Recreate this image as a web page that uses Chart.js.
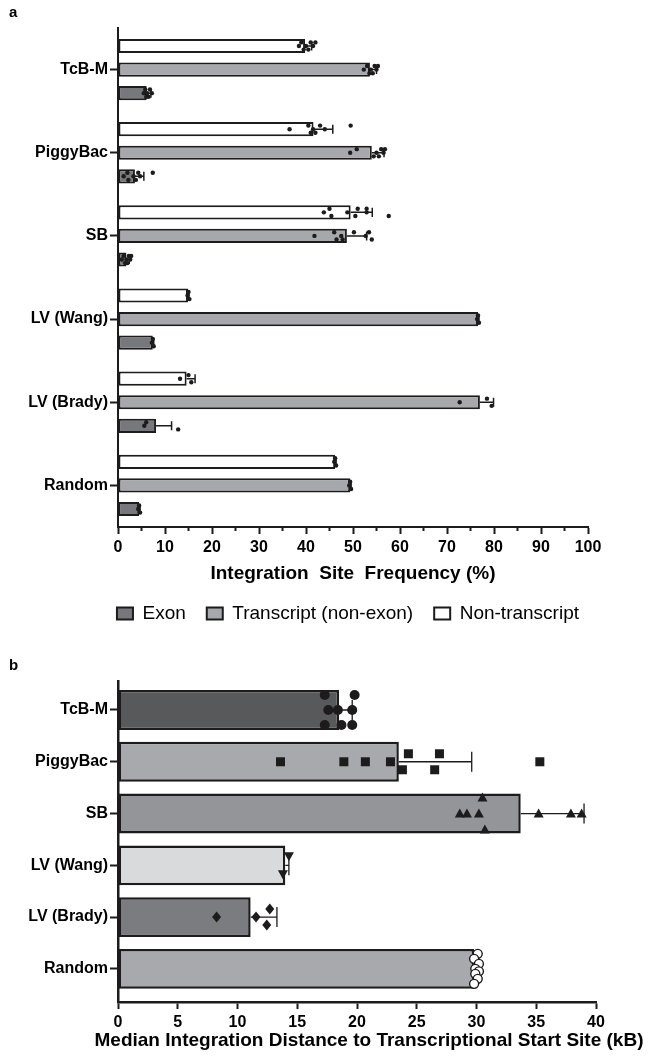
<!DOCTYPE html>
<html>
<head>
<meta charset="utf-8">
<script src="https://cdn.jsdelivr.net/npm/chart.js"></script>
<style>
html,body{margin:0;padding:0;background:#fff;}
#wrap{position:relative;width:652px;height:1056px;overflow:hidden;}
canvas{position:absolute;left:0;}
#ca{top:0;}
#cb{top:643px;}
.pl{position:absolute;font:bold 15px "Liberation Sans",Arial,sans-serif;color:#000;}
</style>
</head>
<body>
<div id="wrap">
<canvas id="ca" width="652" height="643"></canvas>
<canvas id="cb" width="652" height="413"></canvas>
<div class="pl" style="left:9px;top:3px">a</div>
<div class="pl" style="left:9px;top:656px">b</div>
</div>
<script>
// ---------- data ----------
const categories = ['TcB-M', 'PiggyBac', 'SB', 'LV (Wang)', 'LV (Brady)', 'Random'];

// Panel a: integration site frequency (%), bar means
const nonTranscriptMean = [39.8, 41.6, 49.5, 14.9, 14.6, 46.2];
const transcriptMean    = [53.6, 54.0, 48.7, 76.6, 77.0, 49.4];
const exonMean          = [6.1, 3.6, 1.8, 7.4, 8.1, 4.5];
// Panel a: error (SD)
const nonTranscriptSD = [1.4, 4.1, 4.6, 0.2, 1.8, 0.2];
const transcriptSD    = [1.4, 2.6, 4.2, 0.2, 2.9, 0.2];
const exonSD          = [0.9, 1.9, 0.6, 0.2, 3.3, 0.2];
// Panel a: replicate values
const nonTranscriptPoints = [
  [38.5, 39.0, 39.5, 40.0, 40.5, 41.0, 41.5, 42.0],
  [36.5, 40.5, 41.0, 41.5, 42.0, 43.0, 44.0, 49.5],
  [43.8, 45.0, 45.4, 48.8, 50.5, 51.0, 52.9, 52.9, 57.6],
  [14.8, 15.0, 15.2],
  [13.2, 15.0, 15.6],
  [46.0, 46.2, 46.4]
];
const transcriptPoints = [
  [52.3, 53.0, 53.5, 53.8, 54.2, 54.6, 55.0, 55.3],
  [49.4, 50.8, 54.4, 55.0, 55.5, 56.0, 56.5, 56.8],
  [41.8, 46.0, 46.5, 47.5, 47.8, 50.2, 52.7, 53.4, 54.0],
  [76.4, 76.6, 76.8],
  [72.7, 78.5, 79.5],
  [49.2, 49.4, 49.6]
];
const exonPoints = [
  [5.5, 5.8, 6.0, 6.2, 6.5, 6.8, 7.2],
  [1.2, 2.0, 2.2, 3.3, 3.8, 4.3, 4.7, 7.4],
  [0.8, 1.2, 1.5, 1.8, 2.0, 2.3, 2.6, 2.8],
  [7.2, 7.4, 7.6],
  [5.6, 6.0, 12.8],
  [4.3, 4.5, 4.7]
];
const freqTicks = [0, 10, 20, 30, 40, 50, 60, 70, 80, 90, 100];

// Panel b: median integration distance to TSS (kB)
const distanceMedian = [18.5, 23.5, 33.7, 14.0, 11.1, 29.8];
const distanceSD     = [1.1, 6.1, 5.3, 0.3, 2.2, 0.2];
const distancePoints = [
  [17.3, 19.8, 17.6, 18.4, 19.6, 17.3, 18.7, 19.6],
  [13.6, 18.9, 20.7, 22.8, 23.8, 24.3, 26.5, 26.9, 35.3],
  [28.6, 29.2, 30.2, 30.5, 30.7, 35.2, 37.9, 38.8],
  [14.3, 13.8],
  [8.25, 11.55, 12.7, 12.45],
  [30.1, 29.8, 30.2, 29.9, 30.2, 29.9, 30.1, 29.8]
];
const distanceTicks = [0, 5, 10, 15, 20, 25, 30, 35, 40];

// ---------- styling / layout (not data) ----------
const FONT = '"Liberation Sans", Arial, Helvetica, sans-serif';
const INK = '#1d1b1c';
Chart.defaults.font.family = FONT;
Chart.defaults.color = '#000';

const jitterRowsA = [0, -1, 1, 0, 1, -1, 0, -1, 1];
const jitterRowsB = [
  [-1, -1, 0, 0, 0, 1, 1, 1],
  [0, 0, 0, 0, 1, -1, 1, -1, 0],
  [0, 0, 0, -1, 1, 0, 0, 0],
  [-1, 1],
  [0, 0, -1, 1],
  [-3, -2, -1, 0, 0.5, 1, 2, 3]
];
const jitterStepB = [15, 8, 16, 9, 8, 5];
const markerB = ['circle', 'square', 'triangle', 'triangleDown', 'diamond', 'openCircle'];
const barColorsB = ['#58595b', '#a7a9ac', '#939598', '#d9dadc', '#7b7c7f', '#a7a9ac'];

// ---------- panel a ----------
const panelAOverlay = {
  id: 'panelAOverlay',
  afterDatasetsDraw(chart) {
    const ctx = chart.ctx, xs = chart.scales.x;
    const groups = [
      [nonTranscriptPoints, nonTranscriptSD, nonTranscriptMean],
      [transcriptPoints, transcriptSD, transcriptMean],
      [exonPoints, exonSD, exonMean]
    ];
    ctx.save();
    groups.forEach(([pts, sd, mean], di) => {
      chart.getDatasetMeta(di).data.forEach((bar, i) => {
        const y = bar.y, h = bar.height;
        const x0 = xs.getPixelForValue(mean[i]), x1 = xs.getPixelForValue(mean[i] + sd[i]);
        ctx.strokeStyle = INK; ctx.lineWidth = 1.5;
        ctx.beginPath();
        ctx.moveTo(x0, y); ctx.lineTo(x1, y);
        ctx.moveTo(x1, y - h * 0.32); ctx.lineTo(x1, y + h * 0.32);
        ctx.stroke();
        ctx.fillStyle = INK;
        pts[i].forEach((v, k) => {
          const dy = jitterRowsA[k % jitterRowsA.length] * 3.6;
          ctx.beginPath();
          ctx.arc(xs.getPixelForValue(v), y + dy, 2.2, 0, Math.PI * 2);
          ctx.fill();
        });
      });
    });
    ctx.strokeStyle = INK; ctx.lineWidth = 2;
    for (let k = 0; k < freqTicks.length - 1; k++) {
      const xm = xs.getPixelForValue((freqTicks[k] + freqTicks[k + 1]) / 2);
      ctx.beginPath();
      ctx.moveTo(xm, chart.chartArea.bottom); ctx.lineTo(xm, chart.chartArea.bottom + 4);
      ctx.stroke();
    }
    ctx.restore();
  }
};

const barStyle = { borderColor: INK, borderWidth: 2, borderSkipped: false };

new Chart(document.getElementById('ca'), {
  type: 'bar',
  data: {
    labels: categories,
    datasets: [
      Object.assign({ label: 'Non-transcript', data: nonTranscriptMean, backgroundColor: '#ffffff' }, barStyle),
      Object.assign({ label: 'Transcript (non-exon)', data: transcriptMean, backgroundColor: '#a7a8ab' }, barStyle),
      Object.assign({ label: 'Exon', data: exonMean, backgroundColor: '#77787b' }, barStyle)
    ]
  },
  options: {
    indexAxis: 'y',
    responsive: false,
    animation: false,
    events: [],
    categoryPercentage: 0.85,
    barPercentage: 0.6,
    layout: { padding: { left: 0, right: 52, top: 28, bottom: 10 } },
    scales: {
      y: {
        type: 'category',
        offset: true,
        grid: { offset: false, drawOnChartArea: false, drawTicks: true, tickLength: 8, tickWidth: 2, tickColor: INK },
        border: { color: INK, width: 2 },
        ticks: { padding: 2, font: { size: 16, weight: 'bold' }, color: '#000' },
        afterFit(s) { s.width = 118; }
      },
      yR: {
        type: 'linear', axis: 'y', position: 'right', display: true,
        grid: { display: false, drawTicks: false }, border: { display: false },
        ticks: { display: false },
        afterFit(s) { s.width = 12; }
      },
      x: {
        type: 'linear', min: 0, max: 100,
        afterBuildTicks(s) { s.ticks = freqTicks.map(v => ({ value: v })); },
        grid: { drawOnChartArea: false, tickLength: 7, tickWidth: 2, tickColor: INK },
        border: { color: INK, width: 2 },
        ticks: { autoSkip: false, maxRotation: 0, padding: 4, font: { size: 16, weight: 'bold' }, color: '#000' },
        title: { display: true, text: 'Integration  Site  Frequency (%)', font: { size: 19, weight: 'bold' }, color: '#000', padding: { top: 0, bottom: -2 } },
        afterFit(s) { s.height = 56; }
      }
    },
    plugins: {
      legend: {
        position: 'bottom', align: 'end', reverse: true,
        labels: { boxWidth: 16, boxHeight: 12, padding: 21, font: { size: 19 }, color: '#000' }
      },
      tooltip: { enabled: false }
    }
  },
  plugins: [panelAOverlay]
});

// ---------- panel b ----------
function drawMarker(ctx, type, x, y) {
  ctx.beginPath();
  if (type === 'circle') {
    ctx.arc(x, y, 5, 0, Math.PI * 2); ctx.fill();
  } else if (type === 'openCircle') {
    ctx.arc(x, y, 4.5, 0, Math.PI * 2);
    ctx.fillStyle = '#fff'; ctx.fill();
    ctx.lineWidth = 1.4; ctx.stroke(); ctx.fillStyle = INK;
  } else if (type === 'square') {
    ctx.rect(x - 4.5, y - 4.5, 9, 9); ctx.fill();
  } else if (type === 'triangle') {
    ctx.moveTo(x, y - 5); ctx.lineTo(x + 5, y + 4); ctx.lineTo(x - 5, y + 4); ctx.closePath(); ctx.fill();
  } else if (type === 'triangleDown') {
    ctx.moveTo(x, y + 5); ctx.lineTo(x + 5, y - 4); ctx.lineTo(x - 5, y - 4); ctx.closePath(); ctx.fill();
  } else if (type === 'diamond') {
    ctx.moveTo(x, y - 5.5); ctx.lineTo(x + 4.5, y); ctx.lineTo(x, y + 5.5); ctx.lineTo(x - 4.5, y); ctx.closePath(); ctx.fill();
  }
}

const panelBOverlay = {
  id: 'panelBOverlay',
  afterDatasetsDraw(chart) {
    const ctx = chart.ctx, xs = chart.scales.x;
    ctx.save();
    chart.getDatasetMeta(0).data.forEach((bar, i) => {
      const y = bar.y;
      const x0 = xs.getPixelForValue(distanceMedian[i]);
      const x1 = xs.getPixelForValue(distanceMedian[i] + distanceSD[i]);
      ctx.strokeStyle = INK; ctx.lineWidth = 1.3;
      ctx.beginPath();
      ctx.moveTo(x0, y); ctx.lineTo(x1, y);
      ctx.moveTo(x1, y - 10); ctx.lineTo(x1, y + 10);
      ctx.stroke();
      ctx.fillStyle = INK;
      distancePoints[i].forEach((v, k) => {
        drawMarker(ctx, markerB[i], xs.getPixelForValue(v), y + jitterRowsB[i][k] * jitterStepB[i]);
      });
    });
    ctx.fillStyle = '#000';
    ctx.font = 'bold 19px ' + FONT;
    ctx.textAlign = 'center';
    ctx.textBaseline = 'middle';
    ctx.fillText('Median Integration Distance to Transcriptional Start Site (kB)', 369, 398);
    ctx.restore();
  }
};

new Chart(document.getElementById('cb'), {
  type: 'bar',
  data: {
    datasets: [{
      label: 'Median distance',
      data: distanceMedian.map((v, i) => ({ x: v, y: i })),
      backgroundColor: barColorsB,
      borderColor: INK,
      borderWidth: 2.5,
      borderSkipped: false
    }]
  },
  options: {
    indexAxis: 'y',
    responsive: false,
    animation: false,
    events: [],
    categoryPercentage: 1,
    barPercentage: 0.77,
    layout: { padding: { left: 0, right: 56, top: 38, bottom: 0 } },
    scales: {
      y: {
        type: 'linear', reverse: true, min: -0.56, max: 5.64, offset: false,
        afterBuildTicks(s) { s.ticks = categories.map((_, i) => ({ value: i })); },
        grid: { offset: false, drawOnChartArea: false, tickLength: 8, tickWidth: 2, tickColor: INK },
        border: { color: INK, width: 2.5 },
        ticks: { autoSkip: false, padding: 2, font: { size: 16, weight: 'bold' }, color: '#000', callback: v => categories[v] },
        afterFit(s) { s.width = 118; }
      },
      x: {
        type: 'linear', min: 0, max: 40,
        afterBuildTicks(s) { s.ticks = distanceTicks.map(v => ({ value: v })); },
        grid: { drawOnChartArea: false, tickLength: 7, tickWidth: 2, tickColor: INK },
        border: { color: INK, width: 2.5 },
        ticks: { autoSkip: false, maxRotation: 0, padding: 4, font: { size: 16, weight: 'bold' }, color: '#000' },
        afterFit(s) { s.height = 54; }
      }
    },
    plugins: { legend: { display: false }, tooltip: { enabled: false } }
  },
  plugins: [panelBOverlay]
});
</script>
</body>
</html>
